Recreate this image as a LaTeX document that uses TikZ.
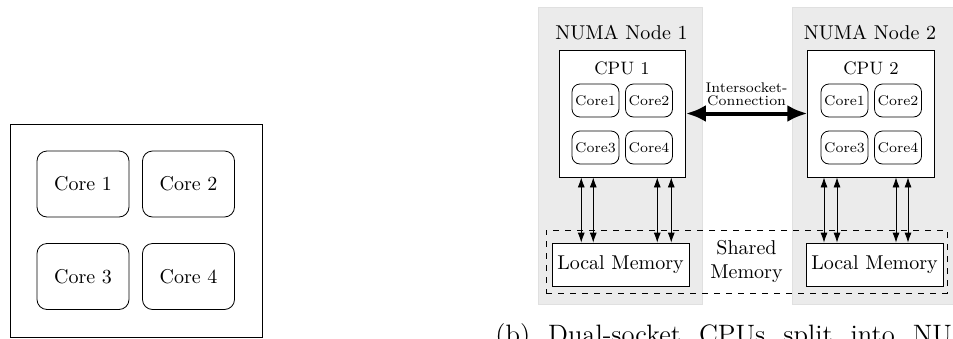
\documentclass[tikz,border=0pt]{standalone}
\usetikzlibrary{positioning,calc,arrows.meta}
\tikzset{
	core/.style={draw, rounded corners=5pt, minimum width=46pt, minimum height=33pt, inner sep=1pt},
	smallcore/.style={draw, rounded corners=4pt, minimum width=23.5pt, minimum height=16.5pt, inner sep=0.5pt, font=\scriptsize},
	numa/.style={fill=black!8, draw=black!12, minimum width=82pt, minimum height=148.5pt, inner sep=0pt},
	cpubox/.style={draw, fill=white, minimum width=63.25pt, minimum height=63.5pt, inner sep=0pt},
	memory/.style={draw, fill=white, minimum width=68.5pt, minimum height=21.5pt, inner sep=0pt},
	memarrow/.style={{Latex[length=5pt,width=3.5pt]}-{Latex[length=5pt,width=3.5pt]}},
	socket/.style={{Latex[length=10pt,width=8.5pt]}-{Latex[length=10pt,width=8.5pt]}, line width=2pt},
}

\begin{document}
\begin{tikzpicture}[x=0.5pt, y=-0.5pt]
	\useasboundingbox (0,0) rectangle (953,338);

	% (a) single CPU
	\node[draw, minimum width=126pt, minimum height=106.5pt] (cpu) at (136,230.5) {};
	\node[core] (c1) at (83,184)    {Core 1};
	\node[core] (c2) at (188.5,184) {Core 2};
	\node[core] (c3) at (83,276.5)  {Core 3};
	\node[core] (c4) at (188.5,276.5) {Core 4};

	% (b) two NUMA nodes
	\node[numa] (numa1) at (620,155.5) {};
	\node[numa] (numa2) at (874,155.5) {};
	\node (numa1label) at (621.5,33) {NUMA Node 1};
	\node (numa2label) at (870,33)   {NUMA Node 2};

	\node[draw, dashed, minimum width=200.5pt, minimum height=31.5pt, align=center] (shmem) at (746.5,261.5) {Shared\\Memory};

	\node[cpubox] (cpu1) at (622.25,113.5) {};
	\node[cpubox] (cpu2) at (871,113.5) {};
	\node[font=\small] (cpu1label) at (622,68) {CPU 1};
	\node[font=\small] (cpu2label) at (871,68) {CPU 2};

	\node[smallcore] (p1c1) at (595.5,100.5) {Core1};
	\node[smallcore] (p1c2) at (649,100.5)   {Core2};
	\node[smallcore] (p1c3) at (595.5,147.5) {Core3};
	\node[smallcore] (p1c4) at (649,147.5)   {Core4};
	\node[smallcore] (p2c1) at (844.5,100.5) {Core1};
	\node[smallcore] (p2c2) at (898,100.5)   {Core2};
	\node[smallcore] (p2c3) at (844.5,147.5) {Core3};
	\node[smallcore] (p2c4) at (898,147.5)   {Core4};

	\node[memory] (mem1) at (620.5,264.5) {Local Memory};
	\node[memory] (mem2) at (874.5,264.5) {Local Memory};

	\draw[socket] (cpu1) -- node[above=3pt, inner sep=0pt, align=center, font=\fontsize{7}{6.5}\selectfont] (socketlabel) {Intersocket-\\Connection} (cpu2);

	\foreach \dx in {-20.5,-14.5,17.5,24.5}
		\draw[memarrow] ([xshift=\dx pt]cpu1.south) -- ([xshift=\dx pt]cpu1.south |- mem1.north);
	\foreach \dx in {-23.5,-17,12.5,18.5}
		\draw[memarrow] ([xshift=\dx pt]cpu2.south) -- ([xshift=\dx pt]cpu2.south |- mem2.north);

	\node[anchor=base west, inner sep=0pt, font=\fontsize{13.3}{16}\selectfont] (caption) at (495,343) {\spaceskip=9pt (b) Dual-socket CPUs split into NU};
\end{tikzpicture}
\end{document}
